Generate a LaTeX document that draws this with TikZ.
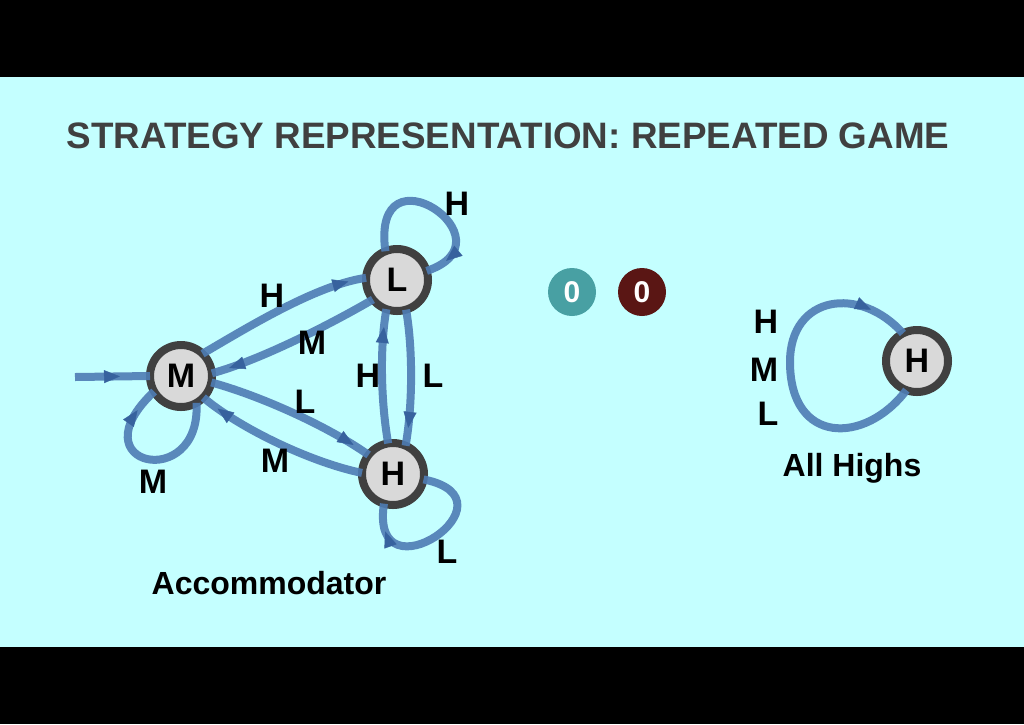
\documentclass[tikz,border=0pt]{standalone}
\usepackage{fontspec}
\setmainfont{Liberation Sans}
\usetikzlibrary{arrows.meta,decorations.markings}
\definecolor{bg}{RGB}{196,255,255}
\definecolor{edgecol}{RGB}{78,124,180}
\definecolor{edgetip}{RGB}{55,98,158}
\definecolor{ringcol}{RGB}{64,64,64}
\definecolor{nodefill}{RGB}{217,217,217}
\definecolor{titlecol}{RGB}{64,64,64}
\definecolor{tealzero}{RGB}{72,160,163}
\definecolor{redzero}{RGB}{90,22,20}
\begin{document}
\begin{tikzpicture}[x=1pt,y=-1pt,
  state/.style={circle,draw=ringcol,fill=nodefill,line width=8pt,minimum size=62pt,inner sep=0pt,outer sep=0pt,font=\fontsize{34}{34}\selectfont\bfseries},
  lbl/.style={font=\fontsize{34}{34}\selectfont\bfseries,inner sep=0pt,text=black},
  captext/.style={font=\fontsize{32}{32}\selectfont\bfseries,inner sep=0pt,text=black},
  zero/.style={circle,minimum size=48pt,inner sep=0pt,text=white,font=\fontsize{30}{30}\selectfont\bfseries},
  trans/.style={draw=edgecol,line width=8pt,draw opacity=0.9,
    postaction={decorate,decoration={markings,mark=at position #1 with {\pgfsetlinewidth{0.5pt}\arrow[edgetip]{Triangle[length=16pt,width=13pt]}}}}},
  trans/.default=-18pt]
\useasboundingbox (0,0) rectangle (1024,724);
\fill[bg] (0,0) rectangle (1024,724);
\fill[black] (0,0) rectangle (1024,77);
\fill[black] (0,647) rectangle (1024,724);

\node[font=\fontsize{36.8}{36.8}\selectfont\bfseries,text=titlecol,inner sep=0pt] (title) at (508,136) {STRATEGY REPRESENTATION: REPEATED GAME};

\node[state] (M) at (181,376) {M};
\node[state] (L) at (397,280) {L};
\node[state] (H) at (393,474) {H};
\node[state] (A) at (917,361) {H};
\coordinate (start) at (75,377);
\coordinate (hl) at (790,362);

\node[zero,fill=tealzero] (z1) at (572,292) {0};
\node[zero,fill=redzero] (z2) at (642,292) {0};

% initial
\draw[trans=-30pt] (start) -- (M.180);
% M -> L (H)
\draw[trans] (M.46) .. controls +(43,-25) and +(-50,7) .. (L.176);
% L -> M (M)
\draw[trans] (L.219) .. controls +(-43,25) and +(48,-13) .. (M.5);
% M -> H (L)
\draw[trans] (M.-12) .. controls +(48,13) and +(-41,-29) .. (H.142);
% H -> M (M)
\draw[trans] (H.178) .. controls +(-49,-10) and +(38,32) .. (M.-44);
% H -> L (H)
\draw[trans] (H.99) .. controls +(-7,-40) and +(-7,40) .. (L.250);
% L -> H (L)
\draw[trans] (L.-73) .. controls +(7,40) and +(7,-40) .. (H.66);
% loops
\draw[trans=-22pt] (L.112) .. controls +(-15,-110) and +(90,-30) .. (L.17);
\draw[trans=-25pt] (M.-60) .. controls +(5,90) and +(-80,75) .. (M.210);
\draw[trans=-28pt] (H.-10) .. controls +(100,20) and +(-15,100) .. (H.253);
\draw[trans=-40pt] (A.250) .. controls (865,445) and (790,445) .. (hl) .. controls (790,295) and (860,285) .. (A.117);

% labels
\node[lbl] (lLL) at (457,204) {H};
\node[lbl] (lML) at (272,296) {H};
\node[lbl] (lLM) at (312,343) {M};
\node[lbl] (lHL) at (368,376) {H};
\node[lbl] (lLH) at (433,376) {L};
\node[lbl] (lMH) at (305,402) {L};
\node[lbl] (lHM) at (275,461) {M};
\node[lbl] (lMM) at (153,482) {M};
\node[lbl] (lHH) at (447,552) {L};
\node[lbl] (a1) at (766,322) {H};
\node[lbl] (a2) at (764,370) {M};
\node[lbl] (a3) at (768,414) {L};

\node[captext] (acc) at (269,583) {Accommodator};
\node[captext] (allh) at (852,468) {All Highs};
\end{tikzpicture}
\end{document}
